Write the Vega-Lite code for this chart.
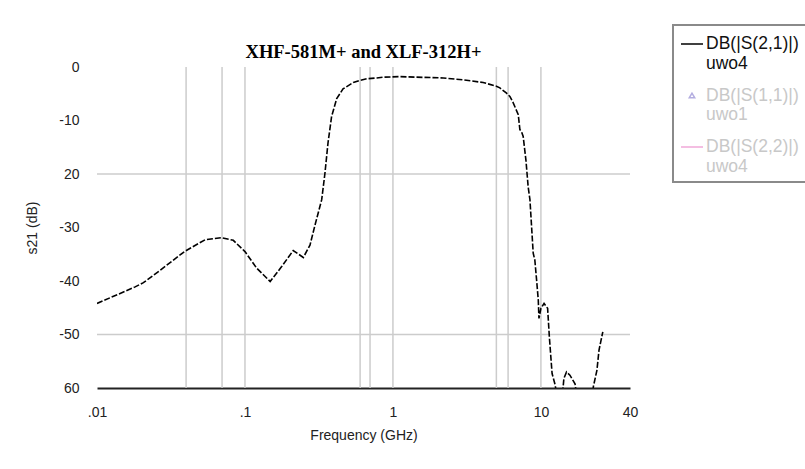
{
  "$schema": "https://vega.github.io/schema/vega-lite/v6.json",
  "width": 533,
  "height": 321,
  "autosize": {"type": "none"},
  "padding": {"left": 97, "top": 67, "right": 175, "bottom": 81},
  "background": "white",
  "config": {"view": {"stroke": null}, "font": "Liberation Sans"},
  "title": {
    "text": "XHF-581M+ and XLF-312H+",
    "font": "Liberation Serif",
    "fontSize": 18.5,
    "fontWeight": "bold",
    "color": "#000000",
    "anchor": "middle",
    "baseline": "bottom",
    "offset": 6,
    "dy": 62
  },
  "datasets": {
    "vgrid": [
      {"freq": 0.04}, {"freq": 0.07}, {"freq": 0.1}, {"freq": 0.6}, {"freq": 0.7},
      {"freq": 1}, {"freq": 5}, {"freq": 6}, {"freq": 10}
    ],
    "hgrid": [{"db": -20}, {"db": -50}],
    "s21": [
      {"series": "DB(|S(2,1)|)~uwo4", "freq": 0.01, "db": -44.2},
      {"series": "DB(|S(2,1)|)~uwo4", "freq": 0.0181, "db": -41.1},
      {"series": "DB(|S(2,1)|)~uwo4", "freq": 0.0206, "db": -40.3},
      {"series": "DB(|S(2,1)|)~uwo4", "freq": 0.0267, "db": -38.0},
      {"series": "DB(|S(2,1)|)~uwo4", "freq": 0.039, "db": -34.5},
      {"series": "DB(|S(2,1)|)~uwo4", "freq": 0.0537, "db": -32.3},
      {"series": "DB(|S(2,1)|)~uwo4", "freq": 0.0696, "db": -31.9},
      {"series": "DB(|S(2,1)|)~uwo4", "freq": 0.0834, "db": -32.4},
      {"series": "DB(|S(2,1)|)~uwo4", "freq": 0.1, "db": -34.5},
      {"series": "DB(|S(2,1)|)~uwo4", "freq": 0.12, "db": -37.6},
      {"series": "DB(|S(2,1)|)~uwo4", "freq": 0.148, "db": -40.1},
      {"series": "DB(|S(2,1)|)~uwo4", "freq": 0.177, "db": -37.3},
      {"series": "DB(|S(2,1)|)~uwo4", "freq": 0.212, "db": -34.3},
      {"series": "DB(|S(2,1)|)~uwo4", "freq": 0.248, "db": -35.6},
      {"series": "DB(|S(2,1)|)~uwo4", "freq": 0.275, "db": -33.3},
      {"series": "DB(|S(2,1)|)~uwo4", "freq": 0.297, "db": -29.6},
      {"series": "DB(|S(2,1)|)~uwo4", "freq": 0.33, "db": -24.8},
      {"series": "DB(|S(2,1)|)~uwo4", "freq": 0.347, "db": -19.9},
      {"series": "DB(|S(2,1)|)~uwo4", "freq": 0.364, "db": -14.2},
      {"series": "DB(|S(2,1)|)~uwo4", "freq": 0.385, "db": -9.25},
      {"series": "DB(|S(2,1)|)~uwo4", "freq": 0.417, "db": -5.9},
      {"series": "DB(|S(2,1)|)~uwo4", "freq": 0.46, "db": -4.1},
      {"series": "DB(|S(2,1)|)~uwo4", "freq": 0.54, "db": -2.9},
      {"series": "DB(|S(2,1)|)~uwo4", "freq": 0.597, "db": -2.5},
      {"series": "DB(|S(2,1)|)~uwo4", "freq": 0.665, "db": -2.2},
      {"series": "DB(|S(2,1)|)~uwo4", "freq": 0.777, "db": -2.05},
      {"series": "DB(|S(2,1)|)~uwo4", "freq": 0.86, "db": -1.9},
      {"series": "DB(|S(2,1)|)~uwo4", "freq": 1.11, "db": -1.8},
      {"series": "DB(|S(2,1)|)~uwo4", "freq": 2.19, "db": -2.05},
      {"series": "DB(|S(2,1)|)~uwo4", "freq": 2.98, "db": -2.4},
      {"series": "DB(|S(2,1)|)~uwo4", "freq": 4.07, "db": -2.9},
      {"series": "DB(|S(2,1)|)~uwo4", "freq": 5.0, "db": -3.6},
      {"series": "DB(|S(2,1)|)~uwo4", "freq": 5.28, "db": -3.9},
      {"series": "DB(|S(2,1)|)~uwo4", "freq": 5.86, "db": -4.9},
      {"series": "DB(|S(2,1)|)~uwo4", "freq": 6.17, "db": -5.5},
      {"series": "DB(|S(2,1)|)~uwo4", "freq": 6.5, "db": -6.7},
      {"series": "DB(|S(2,1)|)~uwo4", "freq": 7.03, "db": -8.9},
      {"series": "DB(|S(2,1)|)~uwo4", "freq": 7.21, "db": -11.7},
      {"series": "DB(|S(2,1)|)~uwo4", "freq": 7.4, "db": -12.1},
      {"series": "DB(|S(2,1)|)~uwo4", "freq": 7.59, "db": -13.0},
      {"series": "DB(|S(2,1)|)~uwo4", "freq": 7.92, "db": -17.4},
      {"series": "DB(|S(2,1)|)~uwo4", "freq": 8.2, "db": -22.4},
      {"series": "DB(|S(2,1)|)~uwo4", "freq": 8.43, "db": -24.8},
      {"series": "DB(|S(2,1)|)~uwo4", "freq": 8.87, "db": -34.8},
      {"series": "DB(|S(2,1)|)~uwo4", "freq": 9.1, "db": -36.1},
      {"series": "DB(|S(2,1)|)~uwo4", "freq": 9.35, "db": -39.8},
      {"series": "DB(|S(2,1)|)~uwo4", "freq": 9.6, "db": -43.6},
      {"series": "DB(|S(2,1)|)~uwo4", "freq": 9.7, "db": -47.0},
      {"series": "DB(|S(2,1)|)~uwo4", "freq": 10.0, "db": -45.1},
      {"series": "DB(|S(2,1)|)~uwo4", "freq": 10.5, "db": -44.2},
      {"series": "DB(|S(2,1)|)~uwo4", "freq": 11.1, "db": -45.1},
      {"series": "DB(|S(2,1)|)~uwo4", "freq": 11.4, "db": -50.4},
      {"series": "DB(|S(2,1)|)~uwo4", "freq": 11.9, "db": -57.3},
      {"series": "DB(|S(2,1)|)~uwo4", "freq": 12.5, "db": -59.5},
      {"series": "DB(|S(2,1)|)~uwo4", "freq": 13.2, "db": -64.0},
      {"series": "DB(|S(2,1)|)~uwo4", "freq": 13.9, "db": -62.0},
      {"series": "DB(|S(2,1)|)~uwo4", "freq": 14.3, "db": -58.2},
      {"series": "DB(|S(2,1)|)~uwo4", "freq": 14.9, "db": -57.0},
      {"series": "DB(|S(2,1)|)~uwo4", "freq": 15.7, "db": -57.6},
      {"series": "DB(|S(2,1)|)~uwo4", "freq": 17.0, "db": -59.2},
      {"series": "DB(|S(2,1)|)~uwo4", "freq": 17.8, "db": -63.0},
      {"series": "DB(|S(2,1)|)~uwo4", "freq": 21.0, "db": -65.0},
      {"series": "DB(|S(2,1)|)~uwo4", "freq": 22.3, "db": -62.0},
      {"series": "DB(|S(2,1)|)~uwo4", "freq": 22.6, "db": -59.8},
      {"series": "DB(|S(2,1)|)~uwo4", "freq": 23.9, "db": -56.7},
      {"series": "DB(|S(2,1)|)~uwo4", "freq": 24.7, "db": -52.9},
      {"series": "DB(|S(2,1)|)~uwo4", "freq": 26.2, "db": -49.5}
    ]
  },
  "layer": [
    {
      "data": {"name": "vgrid"},
      "mark": {"type": "rule", "color": "#cccccc", "strokeWidth": 1.5},
      "encoding": {
        "x": {
          "field": "freq", "type": "quantitative",
          "scale": {"type": "log", "domain": [0.01, 40], "nice": false},
          "axis": {
            "title": "Frequency (GHz)", "values": [0.01, 0.1, 1, 10, 40],
            "labelExpr": "datum.value < 0.05 ? '.01' : datum.value < 0.5 ? '.1' : datum.value < 5 ? '1' : datum.value < 20 ? '10' : '40'",
            "grid": false, "ticks": false, "tickSize": 0, "domain": true, "domainColor": "#222222", "domainWidth": 2,
            "labelFont": "Liberation Sans", "labelFontSize": 14, "labelColor": "#222222", "labelPadding": 17, "labelFlush": false,
            "titleFont": "Liberation Sans", "titleFontSize": 14, "titleFontWeight": "normal", "titleColor": "#222222", "titlePadding": 9
          }
        }
      }
    },
    {
      "data": {"name": "hgrid"},
      "mark": {"type": "rule", "color": "#cccccc", "strokeWidth": 1.5},
      "encoding": {
        "y": {
          "field": "db", "type": "quantitative",
          "scale": {"domain": [-60, 0], "nice": false},
          "axis": {
            "title": "s21 (dB)", "values": [0, -10, -20, -30, -40, -50, -60],
            "labelExpr": "datum.value == -20 ? '20' : datum.value == -60 ? '60' : datum.value == 0 ? '0' : '-' + abs(datum.value)",
            "grid": false, "ticks": false, "tickSize": 0, "domain": false,
            "labelFont": "Liberation Sans", "labelFontSize": 14, "labelColor": "#222222", "labelPadding": 18,
            "titleFont": "Liberation Sans", "titleFontSize": 14, "titleFontWeight": "normal", "titleColor": "#222222", "titlePadding": 19
          }
        }
      }
    },
    {
      "data": {"name": "s21"},
      "mark": {"type": "line", "clip": true, "strokeDash": [6, 2], "strokeWidth": 1.6},
      "encoding": {
        "x": {
          "field": "freq", "type": "quantitative",
          "scale": {"type": "log", "domain": [0.01, 40], "nice": false},
          "axis": {
            "title": "Frequency (GHz)", "values": [0.01, 0.1, 1, 10, 40],
            "labelExpr": "datum.value < 0.05 ? '.01' : datum.value < 0.5 ? '.1' : datum.value < 5 ? '1' : datum.value < 20 ? '10' : '40'",
            "grid": false, "ticks": false, "tickSize": 0, "domain": true, "domainColor": "#222222", "domainWidth": 2,
            "labelFont": "Liberation Sans", "labelFontSize": 14, "labelColor": "#222222", "labelPadding": 17, "labelFlush": false,
            "titleFont": "Liberation Sans", "titleFontSize": 14, "titleFontWeight": "normal", "titleColor": "#222222", "titlePadding": 9
          }
        },
        "y": {
          "field": "db", "type": "quantitative",
          "scale": {"domain": [-60, 0], "nice": false},
          "axis": {
            "title": "s21 (dB)", "values": [0, -10, -20, -30, -40, -50, -60],
            "labelExpr": "datum.value == -20 ? '20' : datum.value == -60 ? '60' : datum.value == 0 ? '0' : '-' + abs(datum.value)",
            "grid": false, "ticks": false, "tickSize": 0, "domain": false,
            "labelFont": "Liberation Sans", "labelFontSize": 14, "labelColor": "#222222", "labelPadding": 18,
            "titleFont": "Liberation Sans", "titleFontSize": 14, "titleFontWeight": "normal", "titleColor": "#222222", "titlePadding": 19
          }
        },
        "color": {
          "field": "series", "type": "nominal",
          "scale": {
            "domain": ["DB(|S(2,1)|)~uwo4", "DB(|S(1,1)|)~uwo1", "DB(|S(2,2)|)~uwo4"],
            "range": ["#000000", "#b4aee0", "#f0a8d8"]
          },
          "legend": {
            "orient": "none", "legendX": 576, "legendY": -42, "title": null,
            "fillColor": "#ffffff", "strokeColor": "#8a8a8a", "padding": 7,
            "symbolType": "stroke", "symbolSize": 484, "symbolStrokeWidth": 1.5,
            "labelFont": "Liberation Sans", "labelFontSize": 17.5, "labelLimit": 300, "labelOffset": 2,
            "rowPadding": 11.5,
            "labelExpr": "split(datum.label, '~')",
            "encode": {
              "labels": {"update": {"fill": {"signal": "datum.index === 0 ? '#111111' : '#c8c8c8'"}, "lineHeight": {"value": 19.5}}},
              "symbols": {"update": {"shape": {"signal": "datum.index === 1 ? 'triangle-up' : 'stroke'"}, "size": {"signal": "datum.index === 1 ? 30 : 484"}}},
              "legend": {"update": {"strokeWidth": {"value": 2}}}
            }
          }
        }
      }
    }
  ]
}
